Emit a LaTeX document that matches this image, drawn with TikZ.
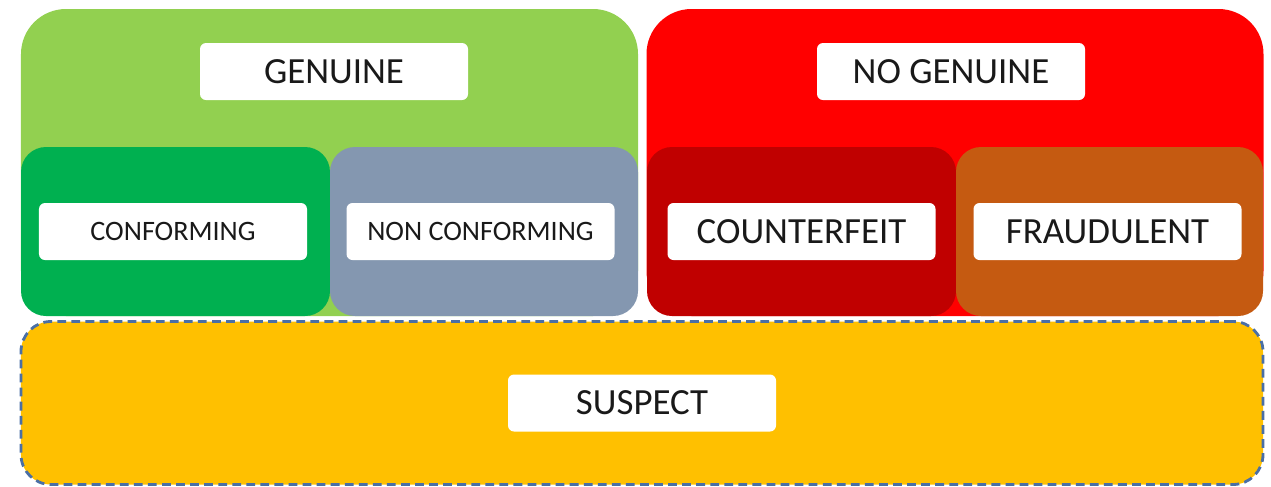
\documentclass[tikz,border=0pt]{standalone}
\usepackage{fontspec}
\setmainfont{Carlito}
\usepackage{xcolor}
\usetikzlibrary{positioning}

\definecolor{lightgreen}{HTML}{92D050}
\definecolor{darkgreen}{HTML}{00B050}
\definecolor{greyblue}{HTML}{8497B0}
\definecolor{brightred}{HTML}{FF0000}
\definecolor{darkred}{HTML}{C00000}
\definecolor{rust}{HTML}{C55A11}
\definecolor{gold}{HTML}{FFC000}
\definecolor{dashblue}{HTML}{4A6FA5}

\begin{document}
\begin{tikzpicture}[
    group/.style={rectangle, rounded corners=0.9cm, minimum width=12.34cm, minimum height=6.14cm, inner sep=0pt},
    sub/.style={rectangle, rounded corners=0.5cm, minimum width=6.16cm, minimum height=3.38cm, inner sep=0pt},
    tag/.style={rectangle, rounded corners=0.12cm, fill=white, minimum width=5.36cm, minimum height=1.14cm, inner sep=0pt, text=black!90},
    bigtext/.style={font=\fontsize{21}{23}\selectfont},
    smalltext/.style={font=\fontsize{16}{18}\selectfont}
]
\useasboundingbox (0,0) rectangle (25.42,-9.72);

% Top groups
\node[group, fill=lightgreen] (genuine) at (6.59,-3.25) {};
\node[group, fill=brightred] (nogenuine) at (19.1,-3.25) {};

% Sub groups
\node[sub, fill=darkgreen, minimum width=6.18cm] (conf) at (3.51,-4.63) {};
\node[sub, fill=greyblue] (nonconf) at (9.68,-4.63) {};
\node[sub, fill=darkred, minimum width=6.18cm] (counter) at (16.03,-4.63) {};
\node[sub, fill=rust, minimum width=6.14cm] (fraud) at (22.19,-4.63) {};

% Suspect band
\node[rectangle, rounded corners=0.6cm, fill=gold, draw=dashblue, line width=1.6pt, dash pattern=on 5pt off 3pt, minimum width=24.84cm, minimum height=3.26cm, inner sep=0pt] (suspect) at (12.84,-8.06) {};

% Labels
\node[tag, bigtext, anchor=north, below=0.68cm of genuine.north, xshift=0.09cm] (genlbl) {GENUINE};
\node[tag, bigtext, anchor=north, below=0.68cm of nogenuine.north, xshift=-0.08cm] (nogenlbl) {NO GENUINE};
\node[tag, smalltext] (conflbl) at ([xshift=-0.05cm]conf) {CONFORMING};
\node[tag, smalltext] (nonconflbl) at ([xshift=-0.07cm]nonconf) {NON CONFORMING};
\node[tag, bigtext] (counterlbl) at (counter) {COUNTERFEIT};
\node[tag, bigtext] (fraudlbl) at ([xshift=-0.04cm]fraud) {FRAUDULENT};
\node[tag, bigtext] (susplbl) at (suspect) {SUSPECT};

\end{tikzpicture}
\end{document}
